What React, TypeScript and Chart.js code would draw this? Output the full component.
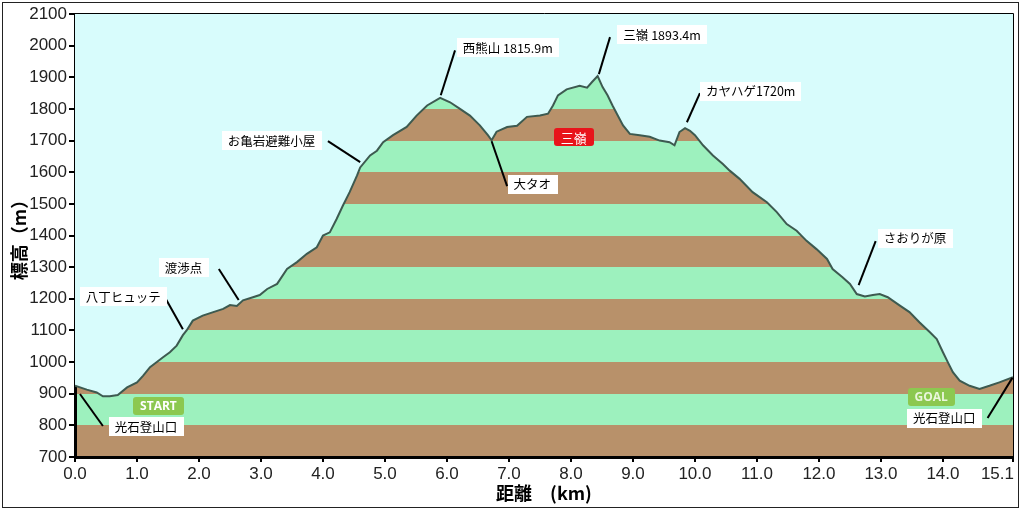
import React, { useEffect, useRef } from 'react';
import { Chart, registerables } from 'chart.js';

Chart.register(...registerables);

// ---- data ----
const distanceKm = [
  0.0, 0.19, 0.35, 0.45, 0.56, 0.69, 0.84, 1.0, 1.1, 1.21, 1.32, 1.42, 1.53, 1.64, 1.74, 1.8, 1.9,
  2.06, 2.23, 2.39, 2.5, 2.61, 2.71, 2.87, 2.98, 3.1, 3.26, 3.42, 3.58, 3.74, 3.9, 4.0, 4.11, 4.22,
  4.32, 4.43, 4.55, 4.6, 4.76, 4.87, 4.97, 5.13, 5.35, 5.51, 5.68, 5.89, 6.05, 6.21, 6.37, 6.53,
  6.66, 6.72, 6.8, 6.97, 7.13, 7.29, 7.5, 7.63, 7.71, 7.79, 7.93, 8.14, 8.26, 8.34, 8.43, 8.51,
  8.59, 8.67, 8.74, 8.84, 8.95, 9.11, 9.27, 9.43, 9.59, 9.67, 9.75, 9.84, 9.92, 10.0, 10.13, 10.29,
  10.45, 10.56, 10.72, 10.93, 11.16, 11.32, 11.48, 11.64, 11.8, 11.96, 12.13, 12.22, 12.38, 12.5,
  12.61, 12.74, 12.87, 12.98, 13.11, 13.3, 13.46, 13.62, 13.79, 13.9, 14.0, 14.08, 14.16, 14.27,
  14.43, 14.59, 14.75, 14.91, 15.13,
];
const elevationM = [
  925, 913, 904, 892, 892, 896, 920, 936, 957, 984, 1000, 1015, 1031, 1052, 1085, 1100, 1131,
  1147, 1158, 1168, 1180, 1177, 1195, 1205, 1212, 1231, 1247, 1294, 1316, 1342, 1363, 1400, 1410, 1452,
  1494, 1537, 1590, 1615, 1653, 1668, 1695, 1717, 1743, 1779, 1811, 1835, 1821, 1800, 1779, 1748,
  1717, 1701, 1728, 1743, 1747, 1775, 1779, 1785, 1811, 1843, 1862, 1873, 1867, 1885, 1904, 1869,
  1843, 1811, 1785, 1748, 1721, 1717, 1712, 1700, 1695, 1685, 1727, 1739, 1731, 1717, 1685, 1653,
  1626, 1605, 1579, 1537, 1505, 1474, 1436, 1415, 1383, 1357, 1326, 1294, 1268, 1247,
  1215, 1207, 1212, 1215, 1205, 1179, 1158, 1126, 1094, 1073, 1031, 999, 968, 941,
  925, 915, 925, 936, 952,
];

const yMin = 700;
const yMax = 2100;
const yStep = 100;
const xMin = 0;
const xMax = 15.13;
const xTickValues = [0, 1, 2, 3, 4, 5, 6, 7, 8, 9, 10, 11, 12, 13, 14, 15.13];
const xTickLabels = ['0.0', '1.0', '2.0', '3.0', '4.0', '5.0', '6.0', '7.0', '8.0', '9.0', '10.0', '11.0', '12.0', '13.0', '14.0', '15.1'];

const xTitle = '距離　(km)';
const yTitle = '標高（m）';

// callouts: label centre and pointer line, in data units (km, m)
const calloutTexts = ['光石登山口', '八丁ヒュッテ', '渡渉点', 'お亀岩避難小屋', '西熊山 1815.9m', '三嶺 1893.4m', 'カヤハゲ1720m', '大タオ', 'さおりが原', '光石登山口'];
const calloutKm = [1.145, 0.78, 1.75, 3.17, 6.98, 9.47, 10.9, 7.377, 13.55, 14.02];
const calloutM = [796, 1207, 1299, 1700, 1993, 2036, 1856, 1562, 1392, 823];
const pointerFrom = [[0.08, 899], [1.45, 1205], [2.32, 1294], [4.08, 1698], [6.13, 1985], [8.63, 2027], [10.08, 1850], [6.72, 1698], [12.915, 1382], [14.72, 823]];
const pointerTo = [[0.45, 798], [1.74, 1104], [2.64, 1196], [4.6, 1632], [5.9, 1843], [8.45, 1910], [9.87, 1758], [6.97, 1556], [12.64, 1243], [15.12, 950]];

const badgeTexts = ['START', 'GOAL', '三嶺'];
const badgeKm = [1.346, 13.81, 8.046];
const badgeM = [861, 890, 1711];
const badgeColors = ['#8CC850', '#8CC850', '#E8141B'];

const COLORS = {
  brown: '#B8916A',
  green: '#9DF1BE',
  sky: '#D8FCFC',
  line: '#3D5A50',
};

const overlayPlugin = {
  id: 'overlay',
  beforeDraw(chart: any) {
    const { ctx, chartArea: a, scales } = chart;
    const y = scales.y;
    ctx.save();
    ctx.fillStyle = '#ffffff';
    ctx.fillRect(0, 0, chart.width, chart.height);
    let i = 0;
    for (let v = yMin; v < yMax; v += yStep, i++) {
      const top = Math.round(y.getPixelForValue(v + yStep));
      const bot = Math.round(y.getPixelForValue(v));
      ctx.fillStyle = i % 2 === 0 ? COLORS.brown : COLORS.green;
      ctx.fillRect(a.left, top, a.right - a.left, bot - top);
    }
    ctx.restore();
  },
  afterDraw(chart: any) {
    const { ctx, chartArea: a, scales } = chart;
    const x = scales.x;
    const y = scales.y;
    ctx.save();
    // outer frame
    ctx.strokeStyle = '#222';
    ctx.lineWidth = 1;
    ctx.strokeRect(2.5, 2.5, chart.width - 6, chart.height - 6);
    // plot top and right border
    ctx.strokeStyle = '#000';
    ctx.beginPath();
    ctx.moveTo(a.left, a.top - 0.5);
    ctx.lineTo(a.right + 0.5, a.top - 0.5);
    ctx.lineTo(a.right + 0.5, a.bottom);
    ctx.stroke();

    // last x tick label, right-aligned to its tick
    ctx.fillStyle = '#222';
    ctx.font = '17px "Liberation Sans"';
    ctx.textAlign = 'right';
    ctx.textBaseline = 'middle';
    const last = xTickValues.length - 1;
    ctx.fillText(xTickLabels[last], x.getPixelForValue(xTickValues[last]) + 1, a.bottom + 17.5);

    // callouts
    ctx.font = '12.5px "Noto Sans CJK JP"';
    for (let i = 0; i < calloutTexts.length; i++) {
      ctx.strokeStyle = '#000';
      ctx.lineWidth = 2;
      ctx.beginPath();
      ctx.moveTo(x.getPixelForValue(pointerFrom[i][0]), y.getPixelForValue(pointerFrom[i][1]));
      ctx.lineTo(x.getPixelForValue(pointerTo[i][0]), y.getPixelForValue(pointerTo[i][1]));
      ctx.stroke();
      const cx = x.getPixelForValue(calloutKm[i]);
      const cy = y.getPixelForValue(calloutM[i]);
      const w = ctx.measureText(calloutTexts[i]).width + 12;
      const h = 19;
      ctx.fillStyle = '#ffffff';
      ctx.fillRect(Math.round(cx - w / 2), Math.round(cy - h / 2), Math.round(w), h);
      ctx.fillStyle = '#000';
      ctx.textAlign = 'center';
      ctx.textBaseline = 'middle';
      ctx.fillText(calloutTexts[i], cx, cy + 0.5);
    }

    // badges
    for (let i = 0; i < badgeTexts.length; i++) {
      const cx = x.getPixelForValue(badgeKm[i]);
      const cy = y.getPixelForValue(badgeM[i]);
      ctx.font = i < 2 ? 'bold 12px "Open Sans"' : '13px "Noto Sans CJK JP"';
      const w = ctx.measureText(badgeTexts[i]).width + 14;
      const h = 18;
      ctx.fillStyle = badgeColors[i];
      ctx.beginPath();
      (ctx as any).roundRect(Math.round(cx - w / 2), Math.round(cy - h / 2), Math.round(w), h, 3);
      ctx.fill();
      ctx.fillStyle = i === 1 ? '#EAF6DC' : '#ffffff';
      ctx.textAlign = 'center';
      ctx.textBaseline = 'middle';
      ctx.fillText(badgeTexts[i], cx, cy + 0.5);
    }
    ctx.restore();
  },
};

export default function App() {
  const ref = useRef<HTMLCanvasElement | null>(null);
  useEffect(() => {
    if (!ref.current) return;
    const points = distanceKm.map((d, i) => ({ x: d, y: elevationM[i] }));
    const tickFont = { family: '"Liberation Sans"', size: 17 };
    const chart = new Chart(ref.current, {
      type: 'line',
      data: {
        datasets: [
          {
            data: points,
            borderColor: COLORS.line,
            borderWidth: 2,
            pointRadius: 0,
            tension: 0,
            fill: 'end',
            backgroundColor: COLORS.sky,
          },
        ],
      },
      options: {
        responsive: false,
        animation: false,
        devicePixelRatio: 1,
        layout: { padding: { top: 14, right: 9, left: 0, bottom: 0 } },
        plugins: { legend: { display: false }, tooltip: { enabled: false } },
        scales: {
          x: {
            type: 'linear',
            min: xMin,
            max: xMax,
            z: 1,
            afterBuildTicks: (s: any) => {
              s.ticks = xTickValues.map((v) => ({ value: v }));
            },
            afterFit: (s: any) => {
              s.height = 54;
            },
            ticks: {
              autoSkip: false,
              maxRotation: 0,
              padding: 2,
              color: '#222',
              font: tickFont,
              callback: (_v: any, i: number) => (i === xTickValues.length - 1 ? '' : xTickLabels[i]),
            },
            grid: { drawOnChartArea: false, drawTicks: true, tickLength: 5, color: '#000', lineWidth: 2 },
            border: { display: true, color: '#000', width: 3 },
            title: {
              display: true,
              text: xTitle,
              color: '#000',
              font: { family: '"Noto Sans CJK JP"', size: 18, weight: 'bold' },
              padding: { top: 0, bottom: 7 },
            },
          },
          y: {
            type: 'linear',
            min: yMin,
            max: yMax,
            z: 1,
            afterFit: (s: any) => {
              s.width = 75;
            },
            ticks: {
              stepSize: yStep,
              padding: 2,
              color: '#222',
              font: tickFont,
              callback: (v: any) => String(v),
            },
            grid: { drawOnChartArea: false, drawTicks: true, tickLength: 6, color: '#000', lineWidth: 2 },
            border: { display: true, color: '#000', width: 3 },
            title: {
              display: true,
              text: yTitle,
              color: '#000',
              font: { family: '"Noto Sans CJK JP"', size: 18, weight: 'bold' },
              padding: { top: 8, bottom: 0 },
            },
          },
        },
      },
      plugins: [overlayPlugin],
    } as any);
    return () => chart.destroy();
  }, []);
  return (
    <div style={{ position: 'absolute', left: 0, top: 0, width: 1022, height: 511 }}>
      <canvas ref={ref} width={1022} height={511} style={{ width: 1022, height: 511, display: 'block' }} />
    </div>
  );
}
